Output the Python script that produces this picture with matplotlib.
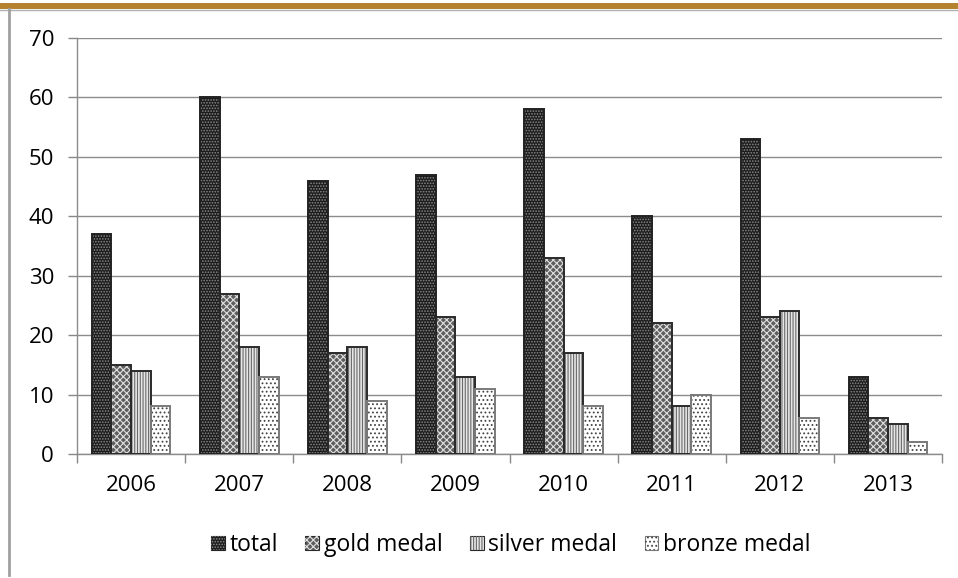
import numpy as np
import matplotlib
matplotlib.use('Agg')
import matplotlib.pyplot as plt
from matplotlib.patches import Rectangle, Patch
from matplotlib.lines import Line2D

# medal counts per year
years = ['2006', '2007', '2008', '2009', '2010', '2011', '2012', '2013']
total = [37, 60, 46, 47, 58, 40, 53, 13]
gold = [15, 27, 17, 23, 33, 22, 23, 6]
silver = [14, 18, 18, 13, 17, 8, 24, 5]
bronze = [8, 13, 9, 11, 8, 10, 6, 2]
labels = ['total', 'gold medal', 'silver medal', 'bronze medal']

plt.rcParams['font.family'] = ['Open Sans', 'DejaVu Sans']
plt.rcParams['hatch.linewidth'] = 0.8

# (face, hatch, hatch colour, edge)
styles = [('#1c1c1c', '......', '#8a8a8a', '#222222'),
          ('#5e5e5e', 'xxxxx', '#e0e0e0', '#2a2a2a'),
          ('#e6e6e6', '||||||', '#6a6a6a', '#2a2a2a'),
          ('#ffffff', '....', '#444444', '#7a7a7a')]

fig = plt.figure(figsize=(9.58, 5.78), dpi=100)
ax = fig.add_axes([0.0804, 0.2145, 0.9029, 0.7198])

x = np.arange(len(years))
w = 1 / 5.5
handles = []
for i, vals in enumerate([total, gold, silver, bronze]):
    fc, hatch, hc, ec = styles[i]
    pos = x + (i - 1.5) * w
    ax.bar(pos, vals, w, color=fc, linewidth=0, zorder=3)
    ax.bar(pos, vals, w, fill=False, hatch=hatch, edgecolor=hc, linewidth=0, zorder=4)
    ax.bar(pos, vals, w, fill=False, edgecolor=ec, linewidth=1.4, zorder=5)
    p1 = Patch(facecolor=fc, edgecolor=ec, linewidth=0.8)
    p2 = Patch(fill=False, hatch=hatch, edgecolor=hc, linewidth=0)
    handles.append((p1, p2))

ax.set_xlim(-0.5, len(years) - 0.5)
ax.set_ylim(0, 70)
ax.set_yticks(range(0, 71, 10))
ax.set_xticks(np.arange(-0.5, len(years), 1))
ax.set_xticklabels([])
ax.set_xticks(x, minor=True)
ax.set_xticklabels(years, minor=True)
ax.tick_params(axis='x', which='minor', length=0, pad=15, labelsize=16)
ax.tick_params(axis='x', which='major', length=6.5, color='#888888', width=1)
ax.tick_params(axis='y', length=6.5, color='#888888', width=1, pad=10, labelsize=16)
ax.grid(axis='y', color='#8c8c8c', linewidth=1, zorder=0)
ax.set_axisbelow(True)
for s in ['top', 'right']:
    ax.spines[s].set_visible(False)
for s in ['left', 'bottom']:
    ax.spines[s].set_color('#8c8c8c')
    ax.spines[s].set_linewidth(1)

fig.legend(handles, labels, loc='center', bbox_to_anchor=(0.533, 0.057), ncol=4,
           frameon=False, fontsize=16.5, handlelength=0.6, handleheight=0.6,
           handletextpad=0.2, columnspacing=1.2)

# frame of the slide: gold band on top, grey border on the left
fig.add_artist(Rectangle((0, 1 - 9 / 578), 1, 6 / 578, transform=fig.transFigure,
                         color='#b5832f', linewidth=0))
fig.add_artist(Line2D([0, 1], [1 - 9.5 / 578] * 2, transform=fig.transFigure,
                      color='#b0b0b0', linewidth=1))
fig.add_artist(Line2D([8.5 / 958] * 2, [0.005, 1 - 9 / 578], transform=fig.transFigure,
                      color='#a0a0a0', linewidth=2))

fig.savefig('out.png', dpi=100)
